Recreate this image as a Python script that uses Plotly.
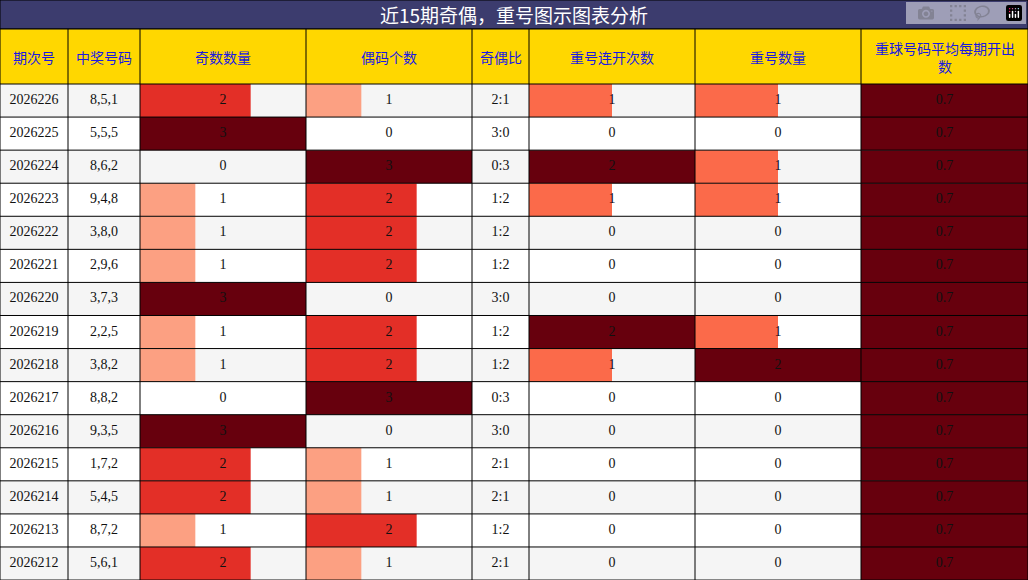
import plotly.graph_objects as go

title = "近15期奇偶，重号图示图表分析"
headers = ["期次号", "中奖号码", "奇数数量", "偶码个数", "奇偶比", "重号连开次数", "重号数量", "重球号码平均每期开出<br>数"]
periods = ["2026226", "2026225", "2026224", "2026223", "2026222", "2026221", "2026220", "2026219",
           "2026218", "2026217", "2026216", "2026215", "2026214", "2026213", "2026212"]
numbers = ["8,5,1", "5,5,5", "8,6,2", "9,4,8", "3,8,0", "2,9,6", "3,7,3", "2,2,5",
           "3,8,2", "8,8,2", "9,3,5", "1,7,2", "5,4,5", "8,7,2", "5,6,1"]
odd_cnt = [2, 3, 0, 1, 1, 1, 3, 1, 1, 0, 3, 2, 2, 1, 2]
even_cnt = [1, 0, 3, 2, 2, 2, 0, 2, 2, 3, 0, 1, 1, 2, 1]
ratio = ["2:1", "3:0", "0:3", "1:2", "1:2", "1:2", "3:0", "1:2", "1:2", "0:3", "3:0", "2:1", "2:1", "1:2", "2:1"]
repeat_run = [1, 0, 2, 1, 0, 0, 0, 2, 1, 0, 0, 0, 0, 0, 0]
repeat_cnt = [1, 0, 1, 1, 0, 0, 0, 1, 2, 0, 0, 0, 0, 0, 0]
avg_repeat = [0.7] * 15

# column edges in px (figure is laid out in pixel units)
col_x = [0, 68, 140, 306, 472, 529, 695, 861, 1028]
title_h, head_bottom, row_h = 29, 84, 33.07

def bar_color(v, vmax):
    f = v / vmax
    if f >= 0.99:
        return "#67000d"
    if f >= 0.6:
        return "#e32f27"
    if vmax == 2:
        return "#fb6a4a"
    return "#fca082"

fig = go.Figure()
shapes = []
ys = [head_bottom + row_h * (i + 0.5) for i in range(len(periods))]

for i in range(len(periods)):
    y0 = head_bottom + row_h * i
    shapes.append(dict(type="rect", x0=0, x1=1028, y0=y0, y1=y0 + row_h,
                       fillcolor="#f5f5f5" if i % 2 == 0 else "white", line_width=0, layer="below"))

bar_cols = [(2, odd_cnt, 3), (3, even_cnt, 3), (5, repeat_run, 2), (6, repeat_cnt, 2), (7, avg_repeat, 0.7)]
for c, vals, vmax in bar_cols:
    w = col_x[c + 1] - col_x[c]
    fig.add_trace(go.Bar(
        orientation="h", y=ys, x=[v / vmax * w for v in vals], base=col_x[c],
        width=row_h, marker=dict(color=[bar_color(v, vmax) for v in vals], line_width=0),
        hoverinfo="skip", showlegend=False))

text_cols = [periods, numbers, odd_cnt, even_cnt, ratio, repeat_run, repeat_cnt, avg_repeat]
for c, vals in enumerate(text_cols):
    cx = (col_x[c] + col_x[c + 1]) / 2
    fig.add_trace(go.Scatter(
        x=[cx] * len(vals), y=ys, mode="text", text=[str(v) for v in vals],
        textfont=dict(family="Liberation Serif", size=14, color="#111"),
        hoverinfo="skip", showlegend=False))

# title bar and header
shapes.append(dict(type="rect", x0=0, x1=1028, y0=0, y1=title_h, fillcolor="#3c3c6e", line=dict(color="black", width=1)))
shapes.append(dict(type="rect", x0=0, x1=1028, y0=title_h, y1=head_bottom, fillcolor="#ffd700", line_width=0))
annotations = [dict(x=514, y=title_h / 2, text=title, showarrow=False,
                    font=dict(family="Noto Sans CJK SC", size=19, color="white"))]
for c, h in enumerate(headers):
    annotations.append(dict(x=(col_x[c] + col_x[c + 1]) / 2, y=(title_h + head_bottom) / 2, text=h,
                            showarrow=False, font=dict(family="Noto Sans CJK SC", size=14, color="#1a1ae0")))

# grid lines
for x in col_x:
    shapes.append(dict(type="line", x0=x, x1=x, y0=title_h, y1=580, line=dict(color="black", width=1)))
for i in range(len(periods) + 1):
    y = head_bottom + row_h * i
    shapes.append(dict(type="line", x0=0, x1=1028, y0=y, y1=y, line=dict(color="black", width=1)))
shapes.append(dict(type="line", x0=0, x1=1028, y0=title_h, y1=title_h, line=dict(color="black", width=1)))

fig.update_layout(
    width=1028, height=580, margin=dict(l=0, r=0, t=0, b=0),
    plot_bgcolor="white", paper_bgcolor="white", barmode="overlay",
    xaxis=dict(range=[0, 1028], visible=False, fixedrange=True),
    yaxis=dict(range=[580, 0], visible=False, fixedrange=True),
    shapes=shapes, annotations=annotations,
)
fig.write_html("out.html", post_script="document.body.style.margin='0';document.body.style.overflow='hidden';")
